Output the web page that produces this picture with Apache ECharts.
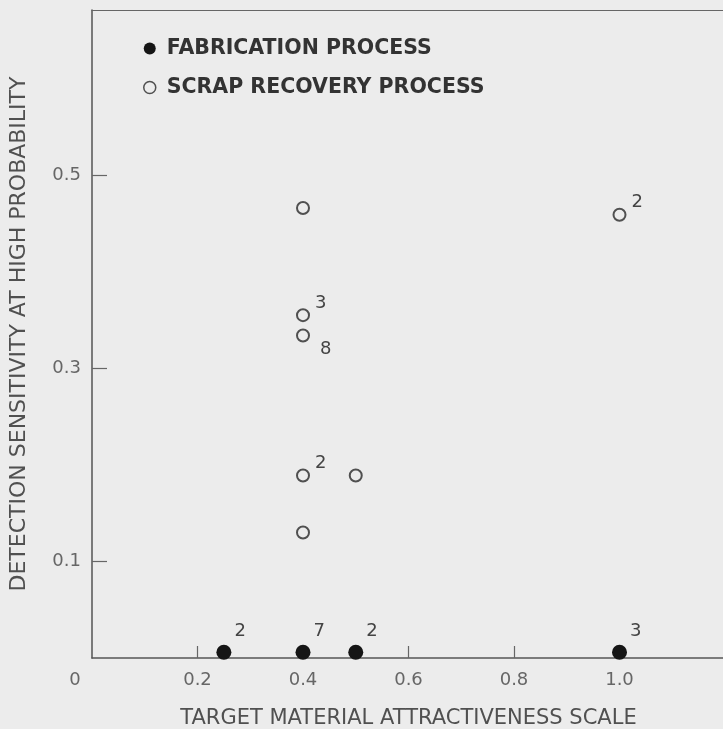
<!DOCTYPE html>
<html>
<head>
<meta charset="utf-8">
<script src="https://cdn.jsdelivr.net/npm/echarts@6/dist/echarts.min.js"></script>
<style>
  html, body { margin: 0; padding: 0; background: #ececec; }
  #chart { width: 723px; height: 729px; }
</style>
</head>
<body>
<div id="chart"></div>
<script>
// fabrication process: filled dots sitting on the x axis, with case counts
const fabX = [0.25, 0.4, 0.5, 1.0];
const fabY = [0.006, 0.006, 0.006, 0.006];
const fabCount = ['2', '7', '2', '3'];

// scrap recovery process: open circles
const scrapX = [0.4, 0.4, 0.4, 0.4, 0.5, 0.4, 1.0];
const scrapY = [0.466, 0.355, 0.334, 0.189, 0.189, 0.130, 0.459];
const scrapCount = ['', '3', '8', '2', '', '', '2'];

const xTickLabels = [0, 0.2, 0.4, 0.6, 0.8, 1.0];
const xTicks = [0.2, 0.4, 0.6, 0.8, 1.0];
const yTickLabels = [0.1, 0.3, 0.5];

const BG = '#ececec';
const INK = '#444';
const FONT = 'DejaVu Sans';

// the "8" sits below-right of its circle, the rest above-right
const belowIdx = new Set([2]);

const fabData = fabX.map((x, i) => ({ value: [x, fabY[i]], count: fabCount[i] }));
const scrapData = scrapX.map((x, i) => ({
  value: [x, scrapY[i]],
  count: scrapCount[i],
  label: belowIdx.has(i) ? { offset: [5, 14] } : undefined,
}));

const chart = echarts.init(document.getElementById('chart'));
chart.setOption({
  backgroundColor: BG,
  animation: false,
  grid: { left: 92, top: 10, bottom: 71, right: -2, containLabel: false, outerBoundsMode: 'none' },
  legend: {
    orient: 'vertical',
    left: 138,
    top: 33,
    itemGap: 18,
    itemWidth: 12,
    itemHeight: 12,
    textStyle: { fontFamily: FONT, fontSize: 20.5, fontWeight: 'bold', color: '#333', padding: [0, 0, 0, 6] },
    data: [
      { name: 'FABRICATION PROCESS', icon: 'circle', itemStyle: { borderWidth: 0 } },
      { name: 'SCRAP RECOVERY PROCESS', icon: 'circle', itemStyle: { borderWidth: 1.5 } },
    ],
  },
  xAxis: [
    {
      type: 'value',
      min: 0,
      max: 1.2,
      name: 'TARGET MATERIAL ATTRACTIVENESS SCALE',
      nameLocation: 'middle',
      nameGap: 50,
      nameTextStyle: { fontFamily: FONT, fontSize: 21, color: '#505050' },
      axisLine: { show: true, lineStyle: { color: '#555', width: 1.5 } },
      axisTick: { show: true, inside: true, length: 12, customValues: xTicks, lineStyle: { color: '#666', width: 1.2 } },
      axisLabel: {
        customValues: xTickLabels,
        margin: 13,
        fontFamily: FONT,
        fontSize: 18,
        color: '#666',
        formatter: (v) => (v === 0 ? '{z|0}' : v.toFixed(1)),
        rich: { z: { fontFamily: FONT, fontSize: 18, color: '#666', padding: [0, 34, 0, 0] } },
      },
      splitLine: { show: false },
    },
    {
      type: 'value',
      position: 'top',
      min: 0,
      max: 1.2,
      axisLine: { show: true, lineStyle: { color: '#666', width: 1.2 } },
      axisTick: { show: false },
      axisLabel: { show: false },
      splitLine: { show: false },
    },
  ],
  yAxis: {
    type: 'value',
    min: 0,
    max: 0.671,
    name: 'DETECTION SENSITIVITY AT HIGH PROBABILITY',
    nameLocation: 'middle',
    nameGap: 62,
    nameTextStyle: { fontFamily: FONT, fontSize: 22, color: '#505050' },
    axisLine: { show: true, lineStyle: { color: '#555', width: 1.5 } },
    axisTick: { show: true, inside: true, length: 15, customValues: yTickLabels, lineStyle: { color: '#666', width: 1.2 } },
    axisLabel: { customValues: yTickLabels, margin: 11, fontFamily: FONT, fontSize: 18, color: '#666', formatter: (v) => v.toFixed(1) },
    splitLine: { show: false },
  },
  series: [
    {
      name: 'FABRICATION PROCESS',
      type: 'scatter',
      data: fabData,
      symbol: 'circle',
      symbolSize: 15,
      itemStyle: { color: '#151515', opacity: 1 },
      label: {
        show: true,
        position: 'right',
        distance: 3,
        offset: [0, -21],
        fontFamily: FONT,
        fontSize: 18,
        color: INK,
        formatter: (p) => p.data.count,
      },
      z: 3,
    },
    {
      name: 'SCRAP RECOVERY PROCESS',
      type: 'scatter',
      data: scrapData,
      symbol: 'circle',
      symbolSize: 12,
      itemStyle: { color: BG, borderColor: '#505050', borderWidth: 2, opacity: 1 },
      label: {
        show: true,
        position: 'right',
        distance: 5,
        offset: [0, -12],
        fontFamily: FONT,
        fontSize: 18,
        color: INK,
        formatter: (p) => p.data.count,
      },
      z: 3,
    },
  ],
});
</script>
</body>
</html>
